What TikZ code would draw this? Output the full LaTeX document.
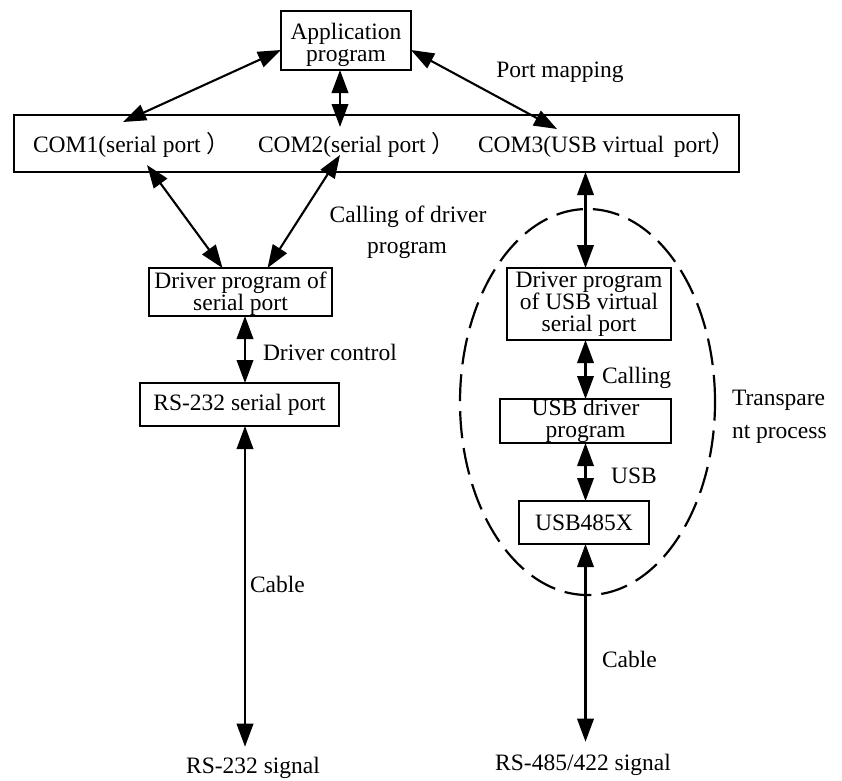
\documentclass[tikz,border=0pt]{standalone}
\usepackage{fontspec}
\setmainfont{Liberation Serif}
\newfontfamily\cjk{Noto Sans CJK SC}
\usetikzlibrary{arrows.meta}

% stacked lines, drawn #1 lower than their natural place in the box
\newcommand{\lowlines}[2]{\raisebox{-#1}[\height][\depth]{\begin{tabular}{@{}c@{}}#2\end{tabular}}}

\begin{document}
\begin{tikzpicture}[x=1pt,y=-1pt,
  every node/.style={font=\fontsize{23.5}{22}\selectfont, inner sep=0pt, outer sep=0pt},
  box/.style={draw, line width=2.8pt, align=center},
  link/.style={line width=2.1pt,
    {Triangle[length=23pt,width=16.5pt]}-{Triangle[length=23pt,width=16.5pt]}},
  lbl/.style={anchor=base west},
  region/.style={line width=2.2pt, dash pattern=on 27pt off 10pt},
]
\useasboundingbox (0,0) rectangle (842,780);

% boxes
\node[box, minimum width=130pt, minimum height=59pt] (app) at (346,40.5) {\lowlines{5pt}{Application\\program}};
\node[box, minimum width=725pt, minimum height=57pt] (com) at (376.5,143.5) {};
\node[box, minimum width=183pt, minimum height=48pt] (drvs) at (240.5,292) {\lowlines{2.5pt}{Driver program of\\serial port}};
\node[box, minimum width=199pt, minimum height=43pt] (rs) at (239.5,404.5) {RS-232 serial port};
\node[box, minimum width=164pt, minimum height=72pt] (drvu) at (589,304) {Driver program\\of USB virtual\\serial port};
\node[box, minimum width=171pt, minimum height=44pt] (usbd) at (585.5,421) {USB driver\\program};
\node[box, minimum width=130pt, minimum height=43pt] (u485) at (584,522.5) {USB485X};

% port names inside the COM strip
\node[lbl] (com1) at (33,152) {COM1(serial port \cjk{）}};
\node[lbl] (com2) at (258,152) {COM2(serial port \cjk{）}};
\node[lbl] (com3) at (478,152) {COM3(USB virtual\ \,port\cjk{）}};

% end texts
\node[anchor=base] (sig1) at (253,773) {RS-232 signal};
\node[anchor=base] (sig2) at (583,770) {RS-485/422 signal};

% labels
\node[anchor=base] (pm) at (560,77) {Port mapping};
\node[anchor=base] (call1) at (408,222) {Calling of driver};
\node[anchor=base] (call2) at (407,253) {program};
\node[lbl] (dc) at (263,360) {Driver control};
\node[lbl] (cl) at (602,383) {Calling};
\node[anchor=base] (usb) at (634,483) {USB};
\node[lbl] (tp1) at (732,405) {Transpare};
\node[lbl] (tp2) at (732,438) {nt process};
\node[lbl] (cab1) at (250,592) {Cable};
\node[lbl] (cab2) at (602,667) {Cable};

% attachment points inside the COM strip
\coordinate (p1) at (123,122);
\coordinate (p2) at (340,127);
\coordinate (p3) at (557,129);
\coordinate (q1) at (147,165);
\coordinate (q2) at (340,155);
\coordinate (lx) at (245,0);
\coordinate (rx) at (585.5,0);

% application to ports
\draw[link] ([yshift=-9.5pt]app.west) -- (p1);
\draw[link] (app.south -| p2) -- (p2);
\draw[link] ([yshift=-9.5pt]app.east) -- (p3);

% ports to serial driver
\draw[link] (q1) -- ([xshift=-18pt]drvs.north);
\draw[link] (q2) -- ([xshift=27pt]drvs.north);

% serial chain
\draw[link] (drvs.south -| lx) -- (rs.north -| lx);
\draw[link] (rs.south -| lx) -- ([yshift=10pt]sig1.north -| lx);

% USB chain
\draw[link] (com.south -| rx) -- (drvu.north -| rx);
\draw[link] (drvu.south -| rx) -- (usbd.north -| rx);
\draw[link] (usbd.south -| rx) -- (u485.north -| rx);
\draw[link] (u485.south -| rx) -- ([yshift=12pt]sig2.north -| rx);

% transparent region
\draw[region] (587.5,402) ellipse [x radius=127.5pt, y radius=193pt];
\end{tikzpicture}
\end{document}
